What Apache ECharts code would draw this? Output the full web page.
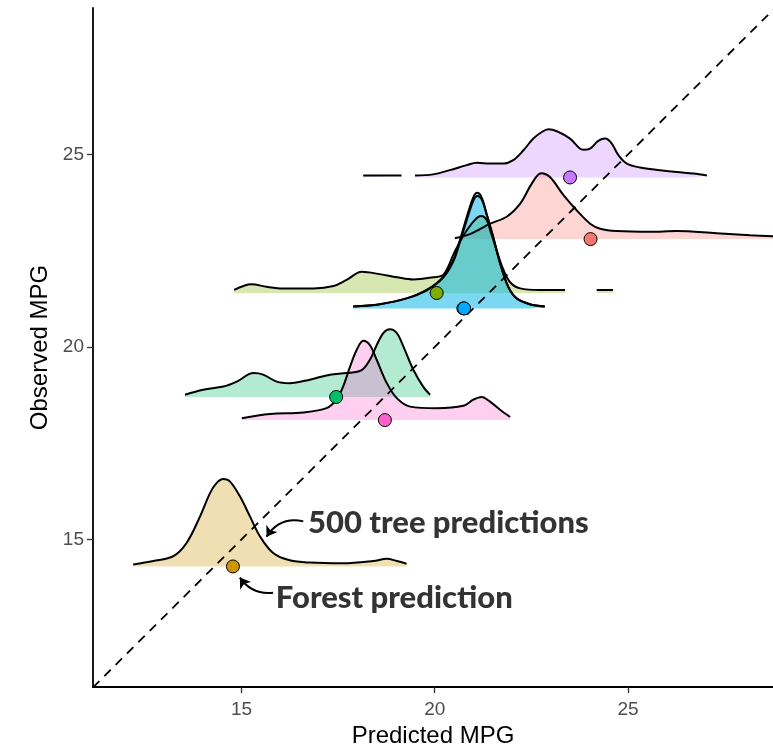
<!DOCTYPE html>
<html><head><meta charset="utf-8">
<script src="https://cdn.jsdelivr.net/npm/echarts@6/dist/echarts.min.js"></script>
<style>html,body{margin:0;padding:0;background:#fff}#c{width:773px;height:748px}</style>
</head><body><div id="c"></div>
<script>
// ---- data ----
const cars      = ['Merc 240D','Datsun 710','Hornet 4 Drive','Mazda RX4','Mazda RX4 Wag','Hornet Sportabout','Valiant','Duster 360'];
const observed  = [24.4, 22.8, 21.4, 21.0, 21.0, 18.7, 18.1, 14.3];
const forestPred= [23.50, 24.03, 20.05, 20.74, 20.76, 17.45, 18.71, 14.78];

// density of the 500 tree predictions (x = predicted MPG, h = ridge height in MPG units; null = gap)
const merc240dX = [18.15,19.14,19.3,19.49,19.96,20.39,20.83,21.09,21.43,21.77,22.03,22.29,22.55,22.77,22.94,23.16,23.50,23.84,24.02,24.23,24.41,24.58,24.75,24.97,25.31,25.83,26.26,26.69,27.04];
const merc240dH = [0.05,0.05,null,0.05,0.08,0.19,0.32,0.38,0.36,0.36,0.45,0.70,1.01,1.18,1.25,1.20,1.01,0.72,0.75,0.95,1.01,0.88,0.58,0.36,0.26,0.19,0.14,0.10,0.05];

const datsun710X = [20.52,20.91,21.17,21.43,21.86,22.21,22.51,22.75,22.98,23.33,23.67,24.02,24.28,24.71,25.57,26.26,27.29,28.16,28.80];
const datsun710H = [0.02,0.13,0.26,0.40,0.58,0.92,1.44,1.71,1.61,1.14,0.75,0.40,0.27,0.21,0.19,0.21,0.15,0.10,0.07];

const hornet4X = [14.81,15.26,15.65,16.00,16.86,17.38,17.72,18.11,18.58,19.02,19.45,19.96,20.22,20.52,20.78,21.04,21.20,21.34,21.46,21.61,21.77,21.95,22.21,22.72,23.37,23.8,24.19,24.61];
const hornet4H = [0.08,0.23,0.16,0.12,0.12,0.18,0.34,0.55,0.49,0.41,0.35,0.41,0.47,1.08,1.55,1.90,2.00,1.90,1.55,1.08,0.62,0.28,0.12,0.08,0.08,null,0.08,0.08];

const mazdaX    = [17.89,18.58,19.27,19.79,20.22,20.48,20.65,20.83,21.00,21.10,21.21,21.34,21.51,21.69,21.90,22.12,22.46,22.85];
const mazdaH    = [0.05,0.11,0.26,0.47,0.80,1.22,1.72,2.30,2.80,2.92,2.84,2.45,1.86,1.18,0.57,0.26,0.11,0.05];
const mazdaWagX = [17.89,18.58,19.27,19.79,20.22,20.48,20.65,20.83,21.00,21.10,21.21,21.34,21.51,21.69,21.90,22.12,22.46,22.85];
const mazdaWagH = [0.05,0.11,0.26,0.48,0.82,1.25,1.77,2.38,2.89,3.00,2.89,2.46,1.86,1.17,0.56,0.26,0.11,0.05];

const sportaboutX = [13.54,14.01,14.53,14.88,15.31,15.56,15.91,16.25,16.77,17.29,17.72,18.11,18.32,18.50,18.67,18.84,19.02,19.19,19.45,19.70,19.88];
const sportaboutH = [0.06,0.19,0.27,0.40,0.62,0.58,0.40,0.36,0.45,0.58,0.62,0.70,0.96,1.35,1.66,1.76,1.66,1.31,0.70,0.27,0.06];

const valiantX = [15.01,15.74,16.60,17.20,17.46,17.63,17.81,17.98,18.15,18.32,18.50,18.76,19.02,19.36,20.05,20.74,21.00,21.21,21.43,21.69,21.95];
const valiantH = [0.05,0.16,0.20,0.31,0.53,0.87,1.39,1.82,2.06,1.95,1.56,0.96,0.57,0.35,0.31,0.37,0.53,0.60,0.48,0.27,0.08];

const dusterX = [12.20,12.72,13.24,13.58,13.93,14.19,14.36,14.53,14.70,14.96,15.22,15.48,15.82,16.25,16.77,17.63,18.41,18.76,19.02,19.27];
const dusterH = [0.05,0.14,0.27,0.61,1.30,1.91,2.17,2.27,2.21,1.82,1.30,0.78,0.35,0.16,0.10,0.08,0.14,0.20,0.14,0.07];

const densX = [merc240dX, datsun710X, hornet4X, mazdaX, mazdaWagX, sportaboutX, valiantX, dusterX];
const densH = [merc240dH, datsun710H, hornet4H, mazdaH, mazdaWagH, sportaboutH, valiantH, dusterH];

const xTicks = [15, 20, 25];
const yTicks = [15, 20, 25];
const xRange = [11.16, 28.75];
const yRange = [11.17, 28.8];

const annotations = [
  {text: '500 tree predictions', x: 16.72, y: 15.42},
  {text: 'Forest prediction',    x: 15.89, y: 13.47}
];
const arrows = [
  {from: [16.60, 15.47], to: [15.65, 15.07], curve: -0.35},
  {from: [15.82, 13.62], to: [14.96, 14.01], curve: 0.3}
];

// ---- style ----
const palette = ['#C77CFF','#F8766D','#7CAE00','#00BFC4','#00A9FF','#00BE67','#FF61CC','#CD9600'];
function rgba(hex, a) {
  const n = parseInt(hex.slice(1), 16);
  return `rgba(${(n>>16)&255},${(n>>8)&255},${n&255},${a})`;
}
const FONT = 'Liberation Sans';

const series = [];
cars.forEach((name, i) => {
  const base = observed[i];
  series.push({
    type: 'line', name,
    data: densX[i].map((x, k) => densH[i][k] == null ? [x, '-'] : [x, base + densH[i][k]]),
    smooth: 0.35, symbol: 'none', showSymbol: false, connectNulls: false,
    lineStyle: {color: '#000', width: 2},
    areaStyle: {color: rgba(palette[i], 0.3), origin: base, opacity: 1},
    silent: true, z: 2, clip: true
  });
});
series.push({
  type: 'line', name: 'diag',
  data: [[Math.min(xRange[0], yRange[0]), Math.min(xRange[0], yRange[0])], [Math.max(xRange[1], yRange[1]), Math.max(xRange[1], yRange[1])]],
  symbol: 'none', lineStyle: {color: '#000', width: 1.8, type: [9, 7]},
  silent: true, z: 3, clip: true
});
series.push({
  type: 'scatter', name: 'forest',
  data: cars.map((c, i) => ({value: [forestPred[i], observed[i]], itemStyle: {color: palette[i]}})),
  symbolSize: 13, itemStyle: {borderColor: '#000', borderWidth: 1, opacity: 1},
  silent: true, z: 5
});
series.push({
  type: 'scatter', name: 'annot',
  data: annotations.map(a => ({value: [a.x, a.y], label: {formatter: a.text}})),
  symbolSize: 0,
  label: {show: true, position: 'right', distance: 0, color: '#000', fontFamily: 'Lato', fontWeight: 900, fontSize: 31},
  silent: true, z: 6
});
series.push({
  type: 'lines', name: 'arrows', coordinateSystem: 'cartesian2d',
  data: arrows.map(a => ({coords: [a.from, a.to], lineStyle: {curveness: a.curve}})),
  symbol: ['none', 'arrow'], symbolSize: 10,
  lineStyle: {color: '#000', width: 2, opacity: 1},
  silent: true, z: 6
});

const chart = echarts.init(document.getElementById('c'));
chart.setOption({
  animation: false,
  backgroundColor: '#fff',
  grid: {left: 93, right: 0, top: 8, bottom: 61, containLabel: false, outerBoundsMode: 'none'},
  xAxis: {
    type: 'value', min: xRange[0], max: xRange[1],
    name: 'Predicted MPG', nameLocation: 'middle', nameGap: 37,
    nameTextStyle: {fontSize: 24, color: '#000', fontFamily: FONT},
    axisLine: {show: true, onZero: false, lineStyle: {color: '#000', width: 1.8}},
    axisTick: {show: true, length: 6, customValues: xTicks, lineStyle: {color: '#333', width: 1.3}},
    axisLabel: {customValues: xTicks, color: '#4D4D4D', fontSize: 19, fontFamily: FONT, margin: 13},
    splitLine: {show: false}
  },
  yAxis: {
    type: 'value', min: yRange[0], max: yRange[1],
    name: 'Observed MPG', nameLocation: 'middle', nameGap: 33,
    nameTextStyle: {fontSize: 24, color: '#000', fontFamily: FONT},
    axisLine: {show: true, onZero: false, lineStyle: {color: '#000', width: 1.8}},
    axisTick: {show: true, length: 6, customValues: yTicks, lineStyle: {color: '#333', width: 1.3}},
    axisLabel: {customValues: yTicks, color: '#4D4D4D', fontSize: 19, fontFamily: FONT, margin: 9},
    splitLine: {show: false}
  },
  series
});
</script></body></html>
